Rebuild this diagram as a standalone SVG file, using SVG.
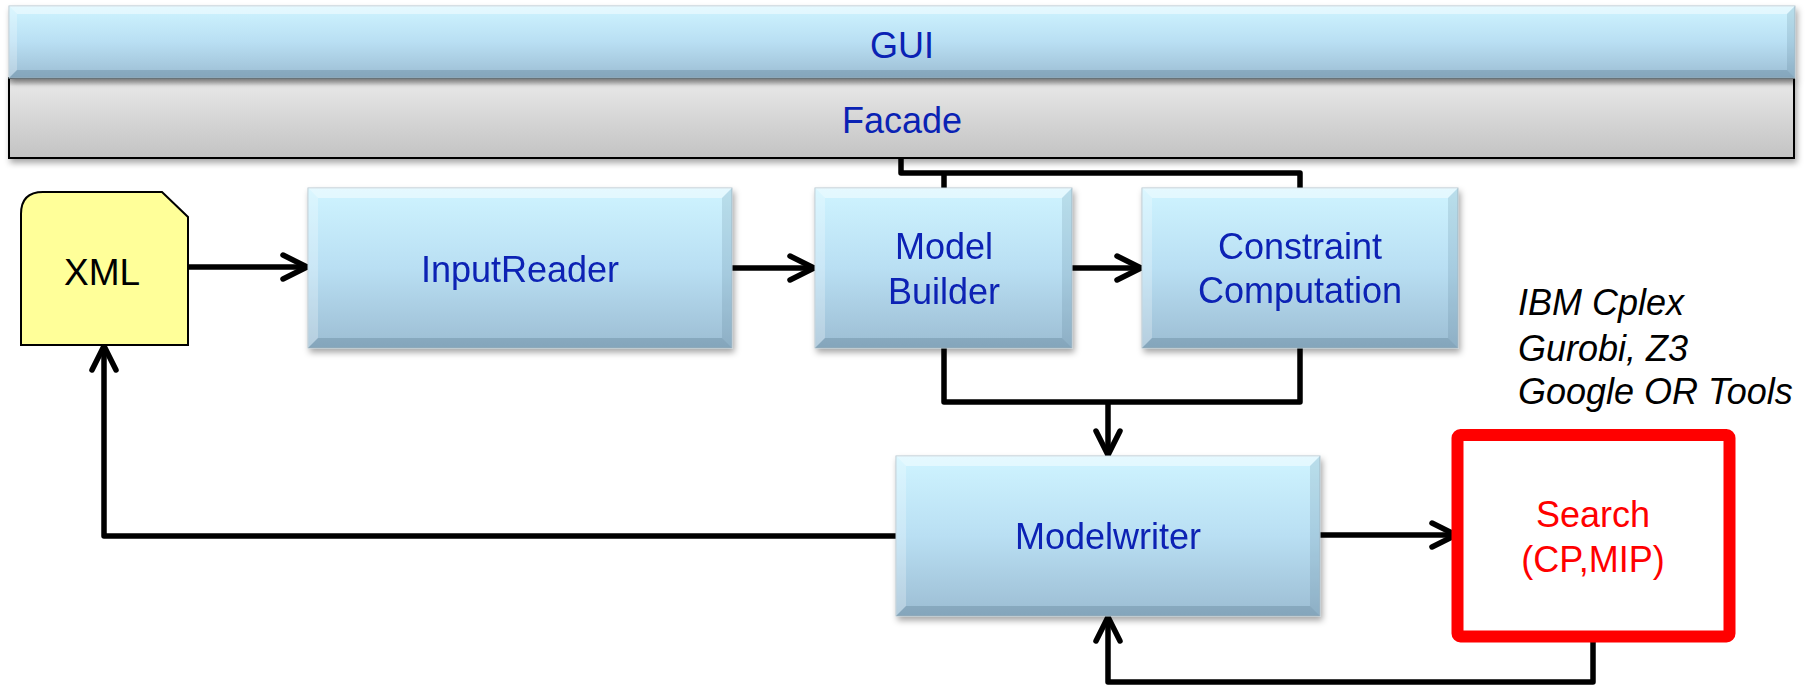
<svg xmlns="http://www.w3.org/2000/svg" width="1814" height="685" viewBox="0 0 1814 685">
<style>
.lbl{font-family:"Liberation Sans",Arial,sans-serif;font-size:36px;fill:#0A22B4;text-anchor:middle}
.blk{fill:#000;font-size:37px}
.red{fill:#FF0000}
.ital{font-family:"Liberation Sans",Arial,sans-serif;font-size:36px;font-style:italic;fill:#000}
.box{fill:url(#blueG);stroke:#B4C6D0;stroke-width:1}
.bt{fill:#fff;fill-opacity:0.45}
.bl{fill:#fff;fill-opacity:0.25}
.br{fill:#3a5a70;fill-opacity:0.14}
.bb{fill:#3a5a70;fill-opacity:0.24}
.conn{fill:none;stroke:#000;stroke-width:5.5;stroke-linejoin:round}
</style>
<defs>
<linearGradient id="blueG" x1="0" y1="0" x2="0" y2="1">
<stop offset="0" stop-color="#CFF4FF"/>
<stop offset="0.5" stop-color="#B9DFF3"/>
<stop offset="1" stop-color="#9CBDD3"/>
</linearGradient>
<linearGradient id="grayG" x1="0" y1="0" x2="0" y2="1">
<stop offset="0" stop-color="#ACACAC"/>
<stop offset="0.1" stop-color="#E6E6E6"/>
<stop offset="1" stop-color="#C3C3C3"/>
</linearGradient>
<filter id="sh" x="-5%" y="-10%" width="110%" height="130%">
<feDropShadow dx="2" dy="4" stdDeviation="3" flood-color="#000" flood-opacity="0.35"/>
</filter>
<marker id="arr" viewBox="0 0 32 30" refX="29" refY="15" markerWidth="32" markerHeight="30" markerUnits="userSpaceOnUse" orient="auto" overflow="visible">
<path d="M4,3 L28,15 L4,27" fill="none" stroke="#000" stroke-width="5.5" stroke-linecap="round" stroke-linejoin="round"/>
</marker>
</defs>
<rect width="1814" height="685" fill="#fff"/>

<g id="facade">
<rect x="9" y="78" width="1785" height="80" fill="url(#grayG)" stroke="#000" stroke-width="2" filter="url(#sh)"/>
<text class="lbl" x="902" y="133">Facade</text>
</g>

<g id="gui">
<rect x="9" y="6" width="1786" height="72" class="box" filter="url(#sh)"/>
<polygon class="bt" points="9,6 1795,6 1787,14 17,14"/>
<polygon class="bl" points="9,6 17,14 17,70 9,78"/>
<polygon class="br" points="1795,6 1795,78 1787,70 1787,14"/>
<polygon class="bb" points="9,78 17,70 1787,70 1795,78"/>
<text class="lbl" x="902" y="58">GUI</text>
</g>

<g id="connectors">
<polyline class="conn" points="901,158 901,173 1300,173 1300,188"/>
<line class="conn" x1="944" y1="173" x2="944" y2="188"/>
<polyline class="conn" points="944,348 944,402 1300,402 1300,348"/>
<line class="conn" x1="1108" y1="402" x2="1108" y2="456" marker-end="url(#arr)"/>
<line class="conn" x1="188" y1="267" x2="308" y2="267" marker-end="url(#arr)"/>
<line class="conn" x1="732" y1="268" x2="815" y2="268" marker-end="url(#arr)"/>
<line class="conn" x1="1072" y1="268" x2="1142" y2="268" marker-end="url(#arr)"/>
<polyline class="conn" points="896,536 104,536 104,345" marker-end="url(#arr)"/>
<line class="conn" x1="1320" y1="535" x2="1457" y2="535" marker-end="url(#arr)"/>
<polyline class="conn" points="1593,636 1593,682 1108,682 1108,616" marker-end="url(#arr)"/>
</g>

<g id="xml">
<path d="M21,345 L21,214 Q21,192 43,192 L162,192 L188,217 L188,345 Z" fill="#FFFF99" stroke="#000" stroke-width="2"/>
<text class="lbl blk" x="102" y="285">XML</text>
</g>

<g id="inputreader" filter="url(#sh)">
<rect x="308" y="188" width="424" height="160" class="box"/>
<polygon class="bt" points="308,188 732,188 722,198 318,198"/>
<polygon class="bl" points="308,188 318,198 318,338 308,348"/>
<polygon class="br" points="732,188 732,348 722,338 722,198"/>
<polygon class="bb" points="308,348 318,338 722,338 732,348"/>
<text class="lbl" x="520" y="282">InputReader</text>
</g>

<g id="modelbuilder" filter="url(#sh)">
<rect x="815" y="188" width="257" height="160" class="box"/>
<polygon class="bt" points="815,188 1072,188 1062,198 825,198"/>
<polygon class="bl" points="815,188 825,198 825,338 815,348"/>
<polygon class="br" points="1072,188 1072,348 1062,338 1062,198"/>
<polygon class="bb" points="815,348 825,338 1062,338 1072,348"/>
<text class="lbl" x="944" y="259">Model</text>
<text class="lbl" x="944" y="304">Builder</text>
</g>

<g id="constraint" filter="url(#sh)">
<rect x="1142" y="188" width="316" height="160" class="box"/>
<polygon class="bt" points="1142,188 1458,188 1448,198 1152,198"/>
<polygon class="bl" points="1142,188 1152,198 1152,338 1142,348"/>
<polygon class="br" points="1458,188 1458,348 1448,338 1448,198"/>
<polygon class="bb" points="1142,348 1152,338 1448,338 1458,348"/>
<text class="lbl" x="1300" y="259">Constraint</text>
<text class="lbl" x="1300" y="303">Computation</text>
</g>

<g id="modelwriter" filter="url(#sh)">
<rect x="896" y="456" width="424" height="160" class="box"/>
<polygon class="bt" points="896,456 1320,456 1310,466 906,466"/>
<polygon class="bl" points="896,456 906,466 906,606 896,616"/>
<polygon class="br" points="1320,456 1320,616 1310,606 1310,466"/>
<polygon class="bb" points="896,616 906,606 1310,606 1320,616"/>
<text class="lbl" x="1108" y="549">Modelwriter</text>
</g>

<g id="search">
<rect x="1457.5" y="435" width="272" height="201.5" rx="3" fill="#fff" stroke="#FF0000" stroke-width="12"/>
<text class="lbl red" x="1593" y="527">Search</text>
<text class="lbl red" x="1593" y="572">(CP,MIP)</text>
</g>

<g id="solvers">
<text class="ital" x="1518" y="315">IBM Cplex</text>
<text class="ital" x="1518" y="361">Gurobi, Z3</text>
<text class="ital" x="1518" y="404">Google OR Tools</text>
</g>
</svg>
